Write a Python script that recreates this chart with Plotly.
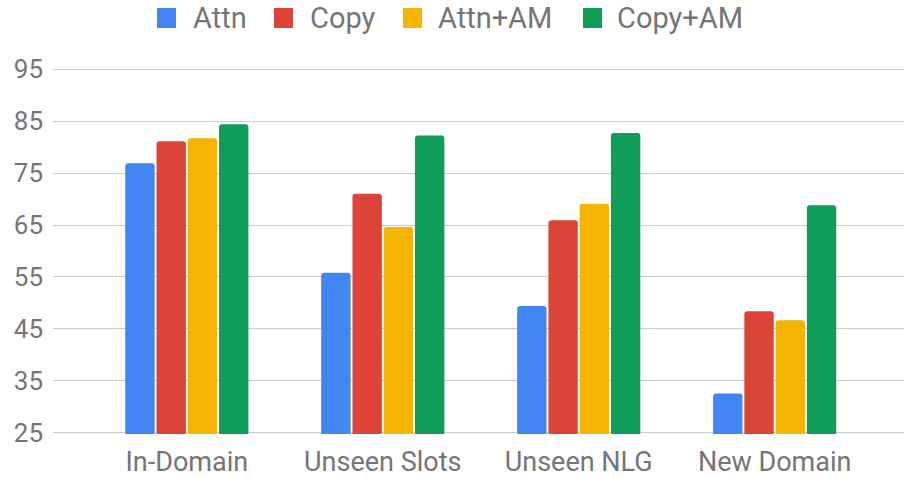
import plotly.graph_objects as go

# Evaluation settings on the x axis
categories = ["In-Domain", "Unseen Slots", "Unseen NLG", "New Domain"]

# Scores per model variant
attn = [76.9, 55.8, 49.4, 32.6]
copy = [81.1, 71.0, 65.9, 48.4]
attn_am = [81.7, 64.6, 69.1, 46.7]
copy_am = [84.4, 82.2, 82.7, 68.8]

series_names = ["Attn", "Copy", "Attn+AM", "Copy+AM"]
series_values = [attn, copy, attn_am, copy_am]
series_colors = ["#4285F4", "#DB4437", "#F4B400", "#0F9D58"]

y_ticks = [25, 35, 45, 55, 65, 75, 85, 95]

text_color = "#757575"
font_family = "Roboto, 'Open Sans', sans-serif"

W, H = 904, 477
M_L, M_R, M_T, M_B = 53, 0, 68, 43
plot_w = W - M_L - M_R
plot_h = H - M_T - M_B


def px_to_paper_x(px):
    return (px - M_L) / plot_w


def px_to_paper_y(py):
    return (H - M_B - py) / plot_h


fig = go.Figure()
for name, values, color in zip(series_names, series_values, series_colors):
    fig.add_trace(go.Bar(
        x=categories,
        y=values,
        name=name,
        marker=dict(color=color, line=dict(width=0)),
        hoverinfo="x+y+name",
        showlegend=False,
    ))

# Legend row across the top: a square swatch followed by the series name
legend_swatch_left = [157, 274, 403, 583]
legend_text_left = [191, 308, 436, 615]
swatch_size = 20
legend_center_y = 18

shapes = []
annotations = []
for name, color, sx, tx in zip(series_names, series_colors, legend_swatch_left, legend_text_left):
    shapes.append(dict(
        type="rect",
        xref="paper", yref="paper",
        x0=px_to_paper_x(sx), x1=px_to_paper_x(sx + swatch_size - 1),
        y0=px_to_paper_y(legend_center_y + swatch_size / 2),
        y1=px_to_paper_y(legend_center_y - swatch_size / 2),
        fillcolor=color,
        line=dict(width=0),
        layer="above",
    ))
    annotations.append(dict(
        text=name,
        xref="paper", yref="paper",
        x=px_to_paper_x(tx), y=px_to_paper_y(legend_center_y),
        xanchor="left", yanchor="middle",
        showarrow=False,
        font=dict(size=29, color=text_color, family=font_family),
    ))

fig.update_layout(
    width=W,
    height=H,
    margin=dict(l=M_L, r=M_R, t=M_T, b=M_B),
    paper_bgcolor="white",
    plot_bgcolor="white",
    font=dict(family=font_family, color=text_color, size=26),
    barmode="group",
    bargap=0.362,
    bargroupgap=0.06,
    barcornerradius=3,
    showlegend=False,
    shapes=shapes,
    annotations=annotations,
)

fig.update_xaxes(
    type="category",
    range=[-0.683, 3.66],
    showgrid=False,
    showline=False,
    ticks="",
    tickfont=dict(size=27, color=text_color),
    ticklabelstandoff=9,
)

fig.update_yaxes(
    range=[24.8, 95.2],
    tickvals=y_ticks,
    ticktext=[str(v) for v in y_ticks],
    showgrid=True,
    gridcolor="#CCCCCC",
    gridwidth=1.3,
    zeroline=False,
    showline=False,
    ticks="",
    tickfont=dict(size=26, color=text_color),
    ticklabelstandoff=9,
)

fig.write_html("out.html")
